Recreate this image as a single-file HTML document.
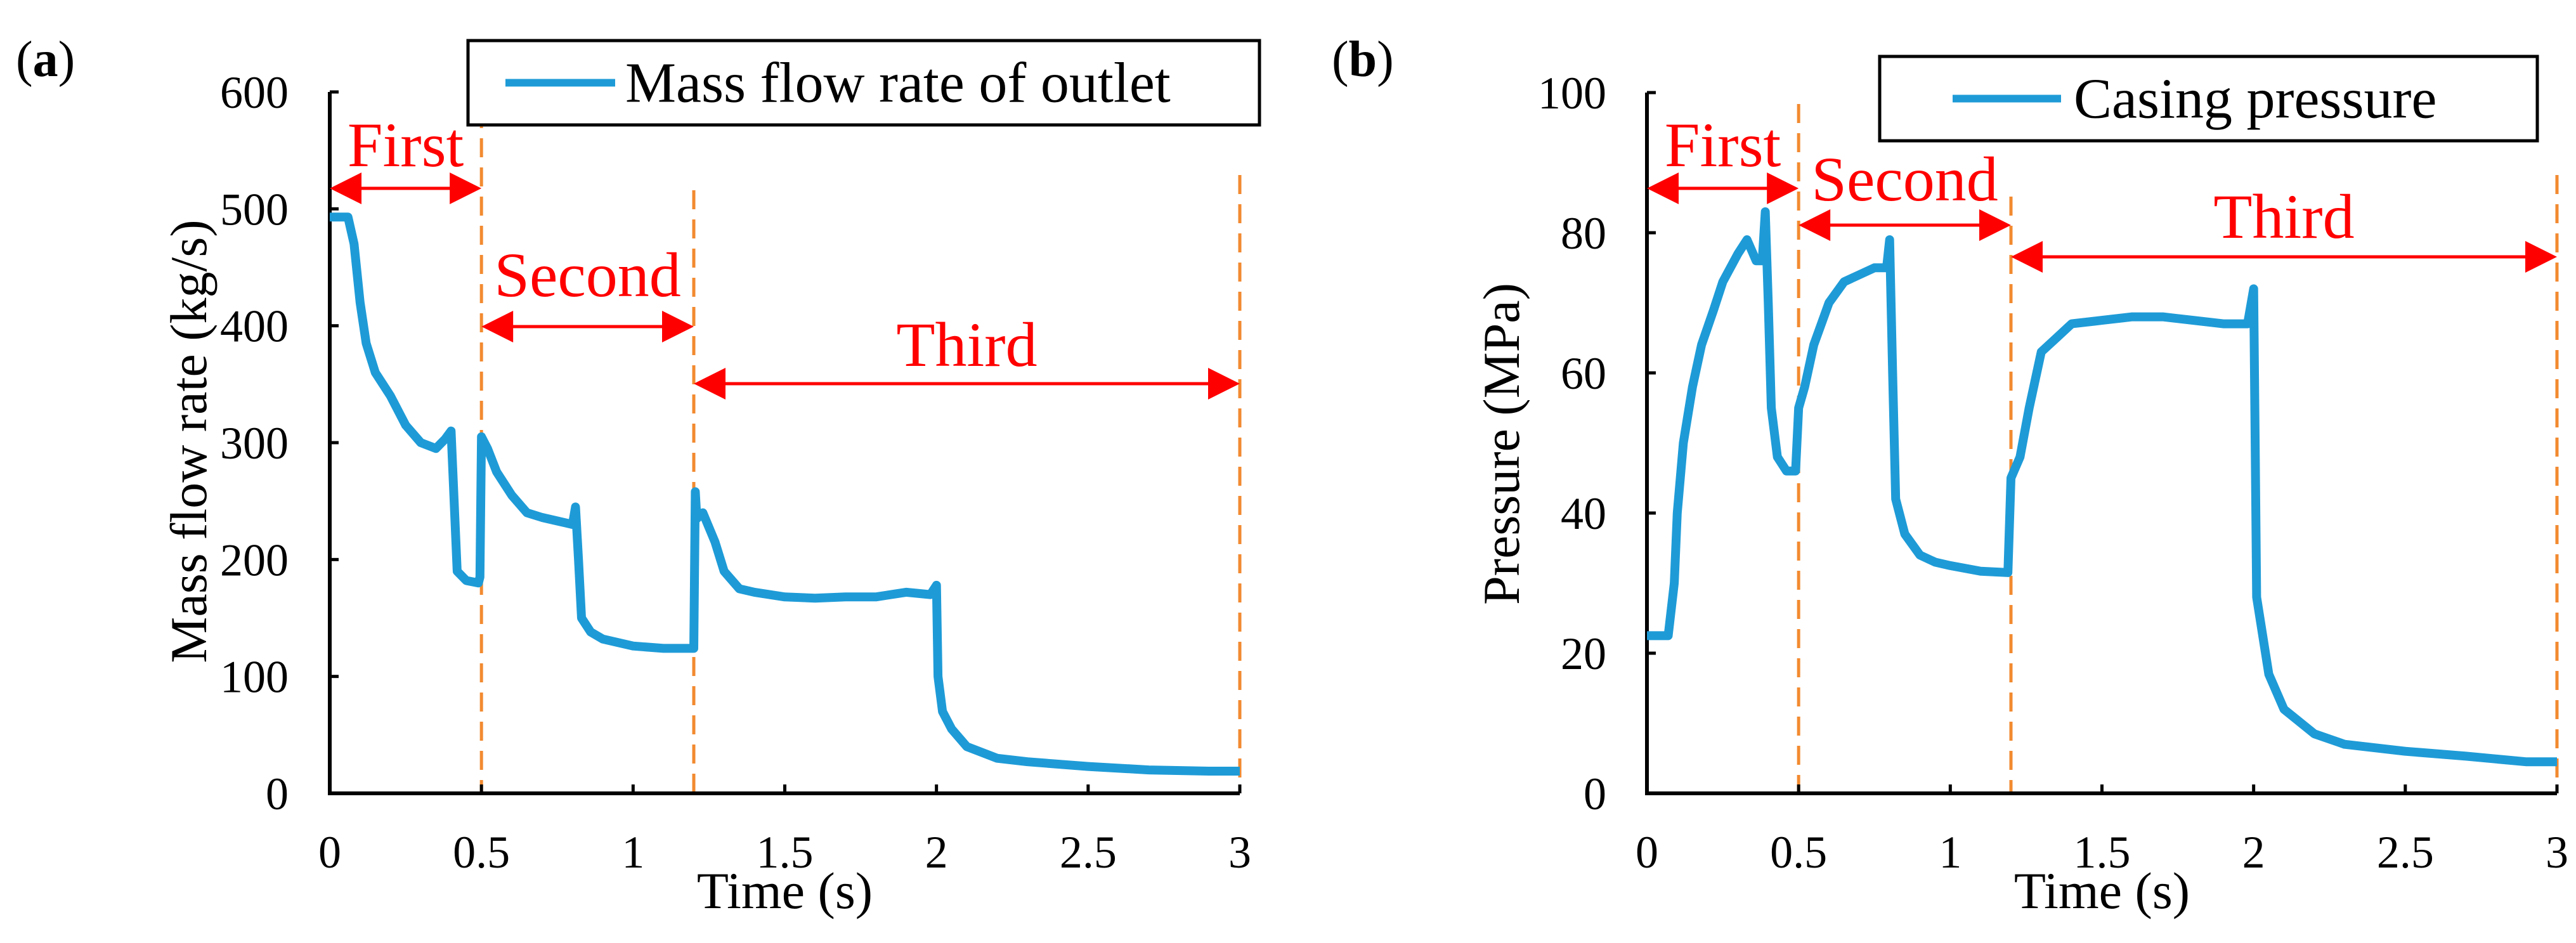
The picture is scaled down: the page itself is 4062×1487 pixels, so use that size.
<!DOCTYPE html>
<html><head><meta charset="utf-8"><style>
html,body{margin:0;padding:0;background:#fff}
svg{display:block}
text{font-family:"Liberation Serif",serif}
</style></head><body>
<svg id="fig" width="4062" height="1487" viewBox="0 0 4062 1487" xmlns="http://www.w3.org/2000/svg"></svg>
<script>
const tA=[0,0.06,0.08,0.1,0.12,0.15,0.2,0.25,0.3,0.35,0.38,0.4,0.41,0.42,0.45,0.49,0.495,0.5,0.52,0.55,0.6,0.65,0.7,0.75,0.8,0.81,0.82,0.83,0.86,0.9,1.0,1.1,1.2,1.205,1.21,1.23,1.27,1.3,1.35,1.4,1.5,1.6,1.7,1.8,1.9,1.98,2.0,2.005,2.02,2.05,2.1,2.2,2.3,2.5,2.7,2.9,3.0];
const vA=[493,493,470,420,385,360,340,315,300,295,303,310,250,190,182,180,185,305,295,275,255,240,236,233,230,245,200,150,138,132,126,124,124,258,235,240,215,190,175,172,168,167,168,168,172,170,178,100,70,55,40,30,27,23,20,19,19];
const tB=[0,0.07,0.09,0.1,0.12,0.15,0.18,0.22,0.25,0.3,0.33,0.36,0.38,0.39,0.4,0.41,0.43,0.46,0.49,0.5,0.52,0.55,0.6,0.65,0.7,0.75,0.79,0.8,0.81,0.82,0.85,0.9,0.95,1.0,1.1,1.19,1.2,1.23,1.26,1.3,1.35,1.4,1.5,1.6,1.7,1.8,1.9,1.98,2.0,2.005,2.01,2.05,2.1,2.2,2.3,2.5,2.7,2.9,3.0];
const vB=[22.5,22.5,30,40,50,58,64,69,73,77,79,76,76,83,70,55,48,46,46,55,58,64,70,73,74,75,75,79,60,42,37,34,33,32.5,31.7,31.5,45,48,55,63,65,67,67.5,68,68,67.5,67,67,72,50,28,17,12,8.5,7,6,5.3,4.5,4.5];
const xTicks=[0,0.5,1,1.5,2,2.5,3];
const xTickLabels=["0","0.5","1","1.5","2","2.5","3"];
const yTicksA=[0,100,200,300,400,500,600];
const yTicksB=[0,20,40,60,80,100];
const phaseBounds=[0,0.5,1.2,3];
const phaseNames=["First","Second","Third"];

const NS="http://www.w3.org/2000/svg";
const svg=document.getElementById('fig');
function mk(tag,attrs,parent,txt){const e=document.createElementNS(NS,tag);for(const k in attrs)e.setAttribute(k,attrs[k]);if(txt!==undefined)e.textContent=txt;(parent||svg).appendChild(e);return e;}

function panel(cfg){
  const g=mk('g',{});
  
  
  const X=t=>cfg.x0+(cfg.x1-cfg.x0)*t/3;
  const Y=v=>cfg.y0-(cfg.y0-cfg.yTop)*v/cfg.ymax;
  phaseBounds.forEach((p,i)=>{
    const l=mk('line',{x1:X(p),x2:X(p),y1:cfg.dashTop[i],y2:cfg.y0,stroke:'#f28a30','stroke-width':5,'stroke-dasharray':'30 16'},g);
    
    
  });
  const ax=mk('path',{d:`M${cfg.x0},${cfg.yTop} V${cfg.y0} H${cfg.x1}`,stroke:'#000','stroke-width':6,fill:'none'},g);
  
  
  xTicks.forEach((t,i)=>{
    mk('line',{x1:X(t),x2:X(t),y1:cfg.y0,y2:cfg.y0-14,stroke:'#000','stroke-width':5},g);
    const tx=mk('text',{x:X(t),y:1368,'font-size':72,'text-anchor':'middle'},g,xTickLabels[i]);
    
    
  });
  cfg.yTicks.forEach(v=>{
    mk('line',{x1:cfg.x0,x2:cfg.x0+14,y1:Y(v),y2:Y(v),stroke:'#000','stroke-width':5},g);
    const tx=mk('text',{x:cfg.yLabRight,y:Y(v)+25,'font-size':72,'text-anchor':'end'},g,String(v));
    
    
  });
  const pts=cfg.t.map((t,i)=>`${X(t).toFixed(1)},${Y(cfg.v[i]).toFixed(1)}`).join(' ');
  const pl=mk('polyline',{points:pts,fill:'none',stroke:'#1e9bd7','stroke-width':14,'stroke-linejoin':'round'},g);
  
  
  phaseNames.forEach((n,i)=>{
    const a=X(phaseBounds[i]),b=X(phaseBounds[i+1]),y=cfg.arrowY[i];
    const ag=mk('g',{},g);
    
    
    mk('line',{x1:a+45,x2:b-45,y1:y,y2:y,stroke:'#f00','stroke-width':5},ag);
    mk('polygon',{points:`${a},${y} ${a+50},${y-25} ${a+50},${y+25}`,fill:'#f00'},ag);
    mk('polygon',{points:`${b},${y} ${b-50},${y-25} ${b-50},${y+25}`,fill:'#f00'},ag);
    const tx=mk('text',{x:(a+b)/2,y:cfg.labelY[i],'font-size':100,'text-anchor':'middle',fill:'#f00'},ag,n);
    
    
  });
  const yt=mk('text',{x:0,y:0,'font-size':82,'text-anchor':'middle',transform:`translate(${cfg.yTitleX},${cfg.yTitleY}) rotate(-90)`},g,cfg.yTitle);
  
  
  const xt=mk('text',{x:(cfg.x0+cfg.x1)/2,y:1432,'font-size':82,'text-anchor':'middle'},g,'Time (s)');
  
  
  const lg=mk('g',{},g);
  
  
  const L=cfg.leg;
  mk('rect',{x:L.x,y:L.y,width:L.w,height:L.h,fill:'#fff',stroke:'#000','stroke-width':5},lg);
  mk('line',{x1:L.lx1,x2:L.lx2,y1:L.y+L.h/2,y2:L.y+L.h/2,stroke:'#1e9bd7','stroke-width':12},lg);
  const lt=mk('text',{x:L.tx,y:L.y+L.h/2+30,'font-size':90},lg,cfg.legText);
  
  
  const pl2=mk('text',{x:cfg.labX,y:120,'font-size':80},g);
  
  
  pl2.innerHTML='(<tspan font-weight="bold">'+cfg.lab+'</tspan>)';
}

panel({name:'panel-a',x0:520,x1:1955,y0:1251,yTop:145,ymax:600,t:tA,v:vA,yTicks:yTicksA,yLabRight:455,
  dashTop:[172,172,300,276],arrowY:[297,515,605],labelY:[262,467,577],
  yTitle:'Mass flow rate (kg/s)',yTitleX:325,yTitleY:696,
  leg:{x:738,y:64,w:1248,h:133,lx1:797,lx2:970,tx:986},legText:'Mass flow rate of outlet',lab:'a',labX:25});
panel({name:'panel-b',x0:2597,x1:4032,y0:1251,yTop:146,ymax:100,t:tB,v:vB,yTicks:yTicksB,yLabRight:2533,
  dashTop:[181,164,310,276],arrowY:[297,355,405],labelY:[262,316,375],
  yTitle:'Pressure (MPa)',yTitleX:2395,yTitleY:700,
  leg:{x:2964,y:89,w:1037,h:133,lx1:3079,lx2:3250,tx:3270},legText:'Casing pressure',lab:'b',labX:2100});
</script>
</body></html>
